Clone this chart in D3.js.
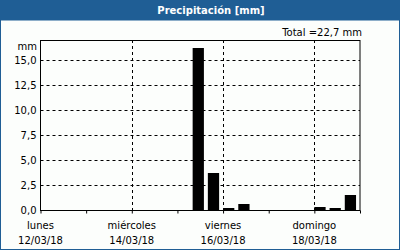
<!DOCTYPE html>
<html>
<head>
<meta charset="utf-8">
<script src="https://cdn.jsdelivr.net/npm/d3@7"></script>
<style>
  body { margin: 0; background: #fff; }
  svg { display: block; }
</style>
</head>
<body>
<div id="chart"></div>
<script>
var width = 400,
    height = 250;

// 8-hour precipitation sums (start of each interval)
var times = ["2018-03-15T08:00", "2018-03-15T16:00", "2018-03-16T00:00", "2018-03-16T08:00",
             "2018-03-18T00:00", "2018-03-18T08:00", "2018-03-18T16:00"];
var values = [16.2, 3.7, 0.2, 0.6, 0.3, 0.2, 1.5];
var dayNames = ["lunes", "miércoles", "viernes", "domingo"];
var yTicks = [0, 2.5, 5, 7.5, 10, 12.5, 15];

var parse = d3.timeParse("%Y-%m-%dT%H:%M");
var start = new Date(2018, 2, 12),
    end = new Date(2018, 2, 19);

var pLeft = 40.5, pRight = 360, pTop = 40, pBottom = 210;
var blue = "#1f5e95";
var font = "DejaVu Sans";

var svg = d3.select("#chart").append("svg")
    .attr("width", width)
    .attr("height", height);

// frame + title bar
svg.append("rect").attr("x", 0.5).attr("y", 0.5).attr("width", width - 1).attr("height", height - 1)
    .attr("fill", "#fcfefc").attr("stroke", blue);
svg.append("rect").attr("x", 0).attr("y", 0).attr("width", width).attr("height", 20.5)
    .attr("fill", blue);
svg.append("text")
    .attr("x", 211).attr("y", 14)
    .attr("text-anchor", "middle")
    .attr("font-family", font)
    .attr("font-weight", "bold")
    .attr("font-size", 10)
    .attr("fill", "#fff")
    .text("Precipitación [mm]");

var x = d3.scaleTime().domain([start, end]).range([pLeft, pRight]);
var y = d3.scaleLinear().domain([0, 17]).range([pBottom, pTop]);

var total = d3.sum(values);
svg.append("text")
    .attr("x", 362).attr("y", 36)
    .attr("text-anchor", "end")
    .attr("font-family", font)
    .attr("font-size", 10)
    .attr("fill", "#000")
    .text("Total =" + d3.format(".1f")(total).replace(".", ",") + " mm");

// grid
var gridY = yTicks.filter(function (d) { return d > 0; });
svg.selectAll(".gy").data(gridY).enter().append("line")
    .attr("x1", pLeft).attr("x2", pRight)
    .attr("y1", function (d) { return Math.round(y(d)) + 0.5; })
    .attr("y2", function (d) { return Math.round(y(d)) + 0.5; })
    .attr("stroke", "#000").attr("stroke-dasharray", "3,3");

var gridDays = d3.timeDay.range(start, end, 2).slice(1);
svg.selectAll(".gx").data(gridDays).enter().append("line")
    .attr("x1", function (d) { return Math.round(x(d)) + 0.5; })
    .attr("x2", function (d) { return Math.round(x(d)) + 0.5; })
    .attr("y1", pTop).attr("y2", pBottom)
    .attr("stroke", "#000").attr("stroke-dasharray", "3,3");

// bars
var step = x(new Date(2018, 2, 12, 8)) - x(start);
svg.selectAll(".bar").data(values).enter().append("rect")
    .attr("x", function (d, i) { return x(parse(times[i])); })
    .attr("width", step * 0.74)
    .attr("y", function (d) { return y(d); })
    .attr("height", function (d) { return pBottom - y(d); })
    .attr("fill", "#000");

// plot box
svg.append("rect")
    .attr("x", pLeft).attr("y", pTop + 0.5)
    .attr("width", pRight - pLeft).attr("height", pBottom - pTop)
    .attr("fill", "none").attr("stroke", "#000");

// x axis
var xAxis = d3.axisBottom(x)
    .ticks(d3.timeDay.every(1))
    .tickSize(3)
    .tickFormat("");
svg.append("g")
    .attr("transform", "translate(0," + (pBottom + 0.5) + ")")
    .call(xAxis)
    .call(function (g) { g.select(".domain").remove(); });

var labelDays = d3.timeDay.range(start, end, 2);
var fmt = d3.timeFormat("%d/%m/%y");
var xl = svg.selectAll(".xl").data(labelDays).enter().append("text")
    .attr("x", function (d) { return x(d); })
    .attr("text-anchor", "middle")
    .attr("font-family", font)
    .attr("font-size", 10)
    .attr("fill", "#000");
xl.append("tspan").attr("x", function (d) { return x(d); }).attr("y", 229)
    .text(function (d, i) { return dayNames[i]; });
xl.append("tspan").attr("x", function (d) { return x(d); }).attr("y", 244)
    .text(function (d) { return fmt(d); });

// y axis
var yAxis = d3.axisLeft(y)
    .tickValues(yTicks)
    .tickSize(0)
    .tickPadding(4)
    .tickFormat(function (d) { return d3.format(".1f")(d).replace(".", ","); });
svg.append("g")
    .attr("transform", "translate(" + pLeft + ",0)")
    .call(yAxis)
    .call(function (g) {
        g.select(".domain").remove();
        g.selectAll("text").attr("font-family", font).attr("font-size", 10).attr("fill", "#000");
    });

svg.append("text")
    .attr("x", 37).attr("y", 50)
    .attr("text-anchor", "end")
    .attr("font-family", font)
    .attr("font-size", 10)
    .attr("fill", "#000")
    .text("mm");
</script>
</body>
</html>
